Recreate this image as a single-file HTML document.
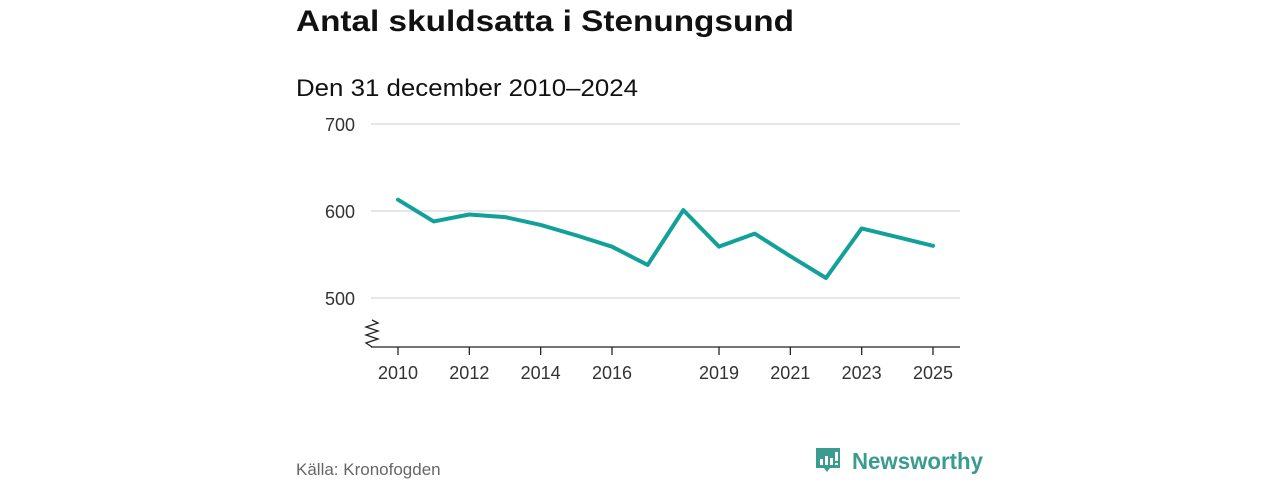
<!DOCTYPE html>
<html><head><meta charset="utf-8"><style>
html,body{margin:0;padding:0;background:#fff;}
svg{display:block;font-family:"Liberation Sans","DejaVu Sans",sans-serif;}
</style></head><body>
<svg id="chart" width="1280" height="480" viewBox="0 0 1280 480">
<text x="296" y="31" font-size="30" font-weight="bold" fill="#111" textLength="498" lengthAdjust="spacingAndGlyphs">Antal skuldsatta i Stenungsund</text>
<text x="296" y="96" font-size="24" fill="#111" textLength="342" lengthAdjust="spacingAndGlyphs">Den 31 december 2010–2024</text>
<g id="grid"></g>
<g id="xaxis"></g>
<path d="M372 320 L378 323 L366 327 L378 331 L366 335 L378 339 L366 343 L372 347" fill="none" stroke="#222" stroke-width="1.3"/>
<line x1="371" y1="347" x2="960" y2="347" stroke="#222" stroke-width="1.3"/>
<path id="line" fill="none" stroke="#12a19a" stroke-width="4" stroke-linejoin="round" stroke-linecap="round"/>
<text x="296" y="475" font-size="17" fill="#666">Källa: Kronofogden</text>
<g>
<path d="M816 448 h24 v20 h-10 l-3 4 l-3 -4 h-8 z" fill="#3a9b8f"/>
<rect x="820" y="459" width="3" height="6" fill="#fff"/><rect x="825" y="456" width="3" height="9" fill="#fff"/><rect x="830" y="458" width="3" height="7" fill="#fff"/><rect x="835" y="452" width="3" height="9" fill="#fff"/><rect x="835" y="463" width="3" height="2" fill="#fff"/>
<text x="852" y="469" font-size="23" font-weight="bold" fill="#3a9b8f" textLength="131" lengthAdjust="spacingAndGlyphs">Newsworthy</text>
</g>
</svg>
<script>
const years=[2010,2011,2012,2013,2014,2015,2016,2017,2018,2019,2020,2021,2022,2023,2024,2025];
const values=[613,588,596,593,584,572,559,538,601,559,574,548,523,580,570,560];
const yTicks=[500,600,700];
const xTicks=[2010,2012,2014,2016,2019,2021,2023,2025];
const NS='http://www.w3.org/2000/svg';
const x=v=>398+(v-2010)*(933-398)/15;
const y=v=>298-(v-500)*0.87;
const grid=document.getElementById('grid'),xa=document.getElementById('xaxis');
yTicks.forEach(t=>{
 const l=document.createElementNS(NS,'line');
 
 
 l.setAttribute('x1',371);l.setAttribute('x2',960);l.setAttribute('y1',y(t));l.setAttribute('y2',y(t));
 l.setAttribute('stroke','#d8d8d8');l.setAttribute('stroke-width','1.3');grid.appendChild(l);
 const s=document.createElementNS(NS,'text');
 
 
 s.setAttribute('x',355);s.setAttribute('y',y(t)+7);s.setAttribute('text-anchor','end');
 s.setAttribute('font-size','18');s.setAttribute('fill','#333');s.textContent=t;grid.appendChild(s);
});
xTicks.forEach(t=>{
 const l=document.createElementNS(NS,'line');
 
 
 l.setAttribute('x1',x(t));l.setAttribute('x2',x(t));l.setAttribute('y1',347);l.setAttribute('y2',355);
 l.setAttribute('stroke','#222');l.setAttribute('stroke-width','1.3');xa.appendChild(l);
 const s=document.createElementNS(NS,'text');
 
 
 s.setAttribute('x',x(t));s.setAttribute('y',379);s.setAttribute('text-anchor','middle');
 s.setAttribute('font-size','18');s.setAttribute('fill','#333');s.textContent=t;xa.appendChild(s);
});
document.getElementById('line').setAttribute('d',years.map((yr,i)=>(i?'L':'M')+x(yr)+' '+y(values[i])).join(' '));
</script>
</body></html>
